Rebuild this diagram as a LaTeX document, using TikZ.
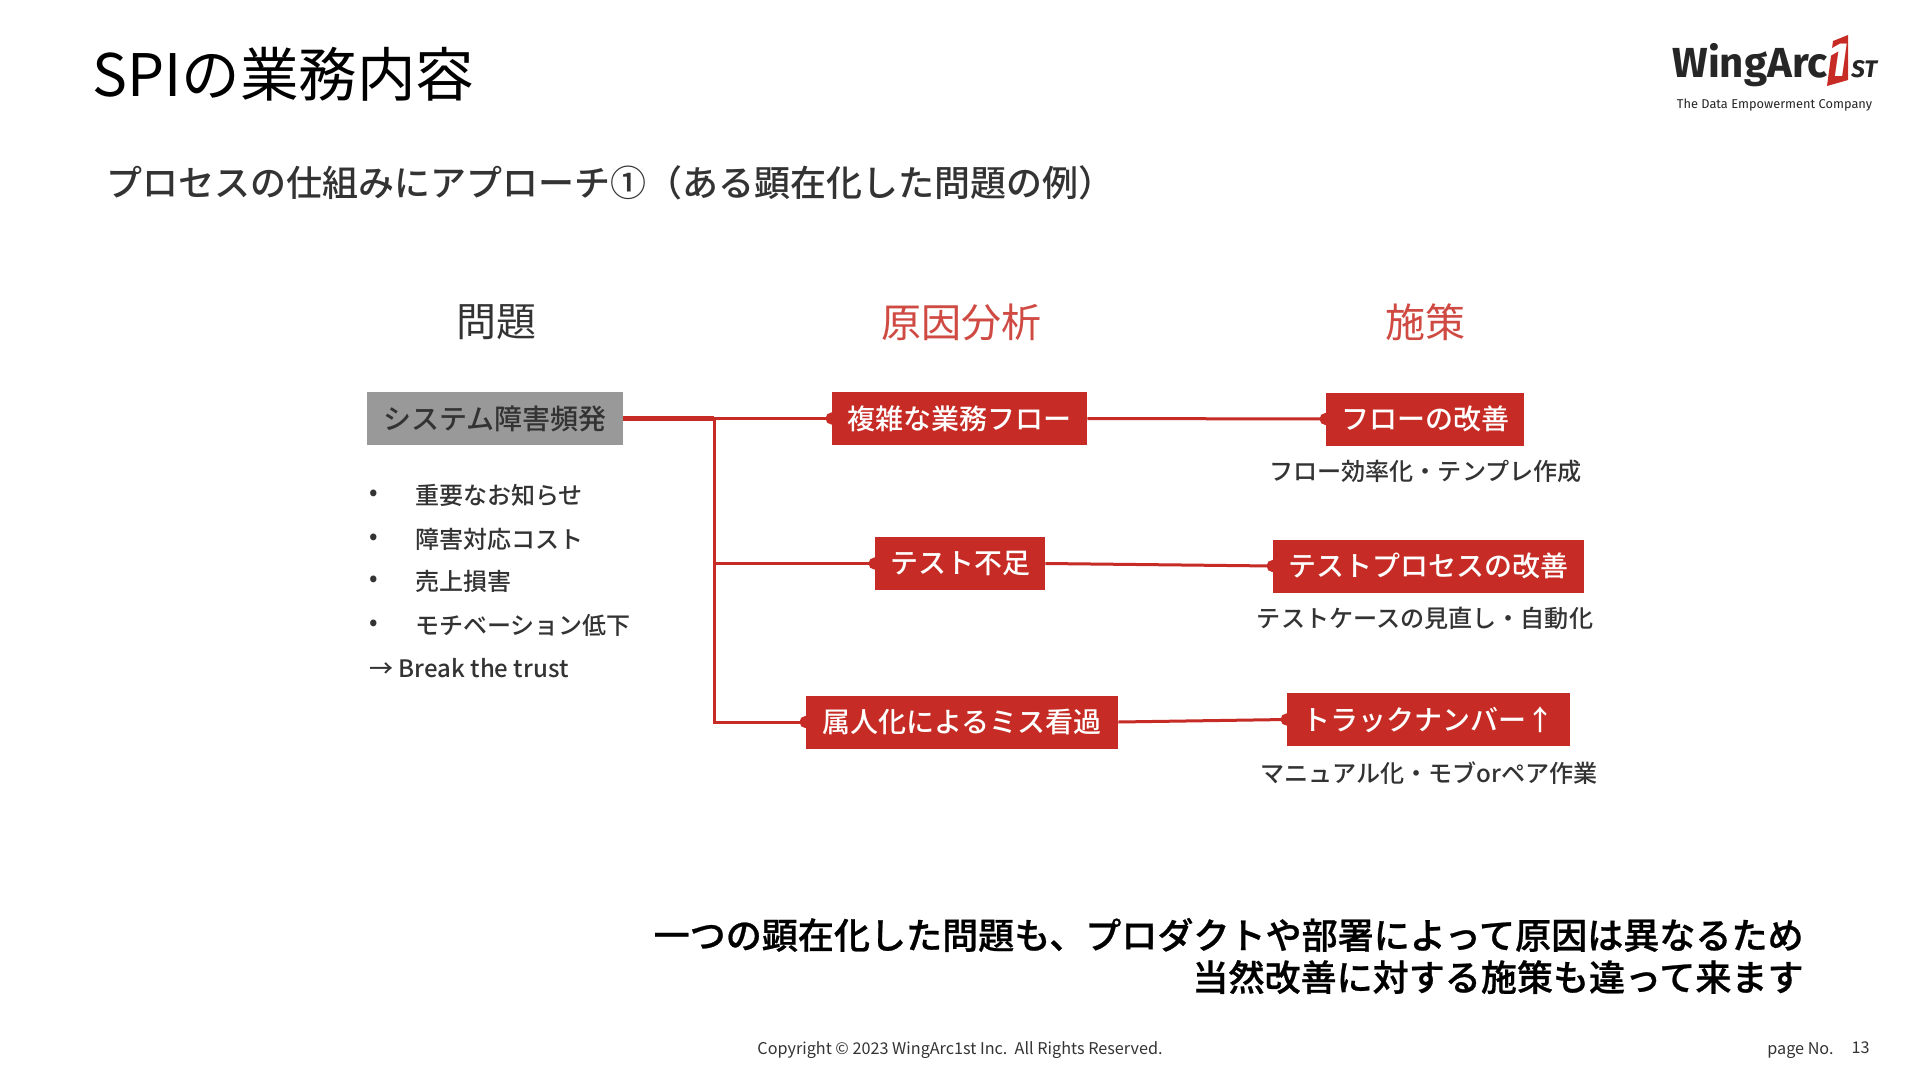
\documentclass[tikz,border=0pt]{standalone}
\usepackage{fontspec}
\setmainfont{Noto Sans CJK JP}
\newfontfamily\mediumfont{Noto Sans CJK JP Medium}
\newfontfamily\closingfont[FakeBold=0.7]{Noto Sans CJK JP Medium}
\newfontfamily\logofont{Fira Sans}
\usetikzlibrary{arrows.meta}
\definecolor{boxred}{HTML}{C62C25}
\definecolor{headred}{HTML}{CF4A42}
\definecolor{boxgray}{HTML}{999999}
\definecolor{bodygray}{HTML}{333333}
\newcommand{\fsize}[1]{\fontsize{#1}{#1}\selectfont}

\begin{document}
\begin{tikzpicture}[x=0.5pt,y=-0.5pt]
\tikzstyle{box}=[fill=boxred, text=white, inner sep=0pt, minimum height=26.5pt, font=\mediumfont\fsize{14}]
\tikzstyle{grayBox}=[box, fill=boxgray, text=bodygray]
\tikzstyle{head}=[font=\fsize{20}]
\tikzstyle{item}=[anchor=west, text=bodygray, inner sep=0pt, font=\mediumfont\fsize{12}]
\tikzstyle{note}=[text=bodygray, inner sep=0pt, font=\mediumfont\fsize{12.05}]
\tikzstyle{link}=[draw=boxred, line width=1.5pt, -{Circle[length=6pt,width=6pt]}, shorten >=-3pt]
\tikzstyle{foot}=[inner sep=0pt, text=bodygray, font=\fsize{8.1}]

\useasboundingbox (0,0) rectangle (1920,1080);
\fill[white] (0,0) rectangle (1920,1080);

\node (title) [anchor=west, inner sep=0pt, font=\fsize{29.3}] at (92,74) {SPIの業務内容};
\node (subtitle) [anchor=west, inner sep=0pt, text=bodygray, font=\mediumfont\fsize{18}] at (106,183) {プロセスの仕組みにアプローチ①（ある顕在化した問題の例）};

\node (headProblem) [head, text=bodygray] at (496,322) {問題};
\node (headCause) [head, text=headred] at (961,322) {原因分析};
\node (headAction) [head, text=headred] at (1425,322) {施策};

\node (sys) [grayBox, minimum width=128pt] at (495,418.5) {システム障害頻発};
\node (flow) [box, minimum width=127.5pt] at (959.5,418.5) {複雑な業務フロー};
\node (test) [box, minimum width=85pt] at (960,563.5) {テスト不足};
\node (person) [box, minimum width=156pt] at (962,722) {属人化によるミス看過};
\node (flowFix) [box, minimum width=99pt] at (1425,419) {フローの改善};
\node (testFix) [box, minimum width=155.5pt] at (1428.5,566) {テストプロセスの改善};
\node (track) [box, minimum width=141.5pt] at (1428.5,719.5) {トラックナンバー↑};

\node (flowNote) [note] at (1425.5,471) {フロー効率化・テンプレ作成};
\node (testNote) [note] at (1425,618) {テストケースの見直し・自動化};
\node (trackNote) [note] at (1429,773) {マニュアル化・モブorペア作業};

\node (dotA) [item] at (369,495) {•};
\node (itemA) [item] at (415,495) {重要なお知らせ};
\node (dotB) [item] at (369,539) {•};
\node (itemB) [item] at (415,539) {障害対応コスト};
\node (dotC) [item] at (369,581) {•};
\node (itemC) [item] at (415,581) {売上損害};
\node (dotD) [item] at (369,625) {•};
\node (itemD) [item] at (415,625) {モチベーション低下};
\node (trust) [item] at (369,668) {→ Break the trust};

\coordinate (branch) at (714,418.5);
\draw[boxred, line width=2.2pt] (sys.east) -- (branch);
\draw[link] (branch) -- (flow.west);
\draw[link] (branch) |- (test.west);
\draw[link] (branch) |- (person.west);
\draw[link] (flow.east) -- (flowFix.west);
\draw[link] (test.east) -- (testFix.west);
\draw[link] (person.east) -- (track.west);

\node (closing) [anchor=east, align=right, inner sep=0pt, font=\closingfont\fsize{18.03}] at (1804,956) {一つの顕在化した問題も、プロダクトや部署によって原因は異なるため\\[3pt]当然改善に対する施策も違って来ます};

\node (copyright) [foot] at (960,1050) {Copyright © 2023 WingArc1st Inc.\ \ All Rights Reserved.};
\node (pageLabel) [foot, anchor=east] at (1834,1051) {page No.};
\node (pageNo) [foot, anchor=east] at (1870,1048) {13};

% logo
\node (logoName) [anchor=base west, inner sep=0pt, text=black!85, font=\logofont\fsize{21}\bfseries] at (1672,78) {WingArc};
\fill[boxred] (1833,41) -- (1848,35) -- (1848,80) -- (1827,86) -- cycle;
\node (logoOne) [inner sep=0pt, text=white, font=\logofont\fsize{24}\bfseries\itshape] at (1837,60) {1};
\node (logoSt) [anchor=base west, inner sep=0pt, text=black!85, font=\logofont\fsize{12}\bfseries\itshape] at (1851,78) {ST};
\node (logoTag) [inner sep=0pt, text=black!85, font=\logofont\fsize{6.4}] at (1774.5,105) {The Data Empowerment Company};
\end{tikzpicture}
\end{document}
